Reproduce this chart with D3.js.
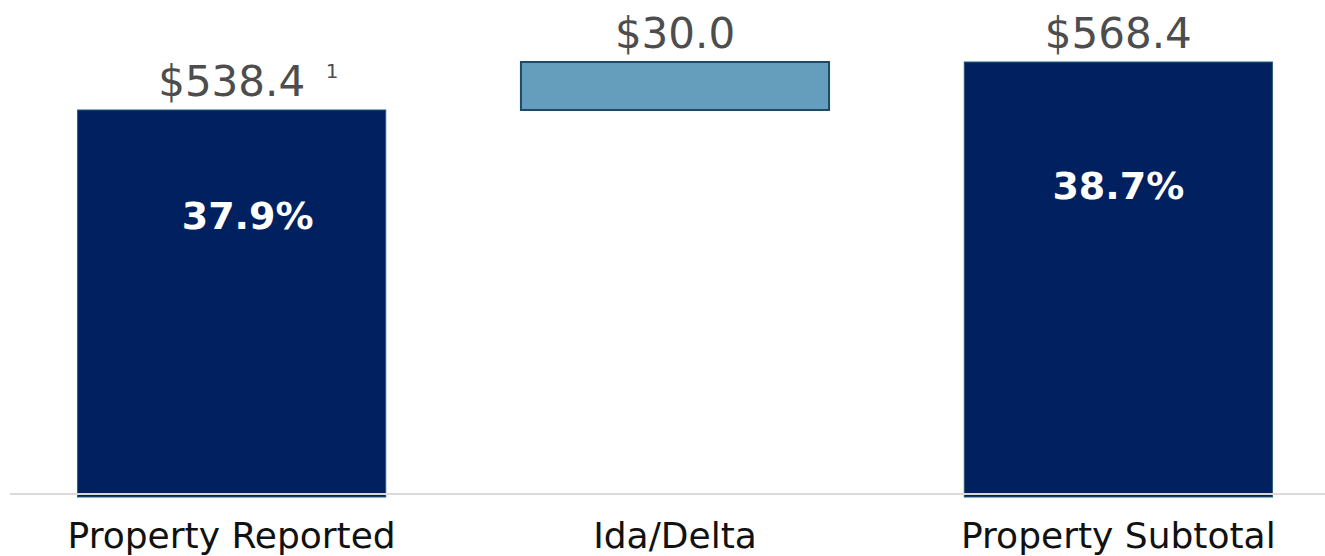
<!DOCTYPE html>
<html><head><meta charset="utf-8">
<script src="https://cdn.jsdelivr.net/npm/d3@7"></script>
<style>html,body{margin:0;padding:0;background:#fff;}svg{display:block;}</style>
</head><body>
<svg id="c" width="1325" height="556"></svg>
<script>
const categories = ["Property Reported", "Ida/Delta", "Property Subtotal"];
const barTypes = ["total", "delta", "total"];
const barValues = [538.4, 30.0, 568.4];
const valueLabels = ["$538.4", "$30.0", "$568.4"];
const footnotes = ["1", "", ""];
const ratioLabels = ["37.9%", "", "38.7%"];

// cumulative starts/ends
let run = 0;
const bars = categories.map((c, i) => {
  let y0, y1;
  if (barTypes[i] === "total") { y0 = null; y1 = barValues[i]; run = barValues[i]; }
  else { y0 = run; y1 = run + barValues[i]; run = y1; }
  return {c, i, y0, y1, type: barTypes[i], label: valueLabels[i], fn: footnotes[i], ratio: ratioLabels[i]};
});

const svg = d3.select("#c");
const x = d3.scaleBand().domain(categories).range([10, 1340]).paddingInner(0.305).paddingOuter(0.1525);
const y = d3.scaleLinear().domain([296.5, 568.4]).range([497, 62]);

const base = y.domain()[0];
svg.selectAll("rect.bar").data(bars).join("rect")
  .attr("class", "bar")
  .attr("x", d => x(d.c))
  .attr("width", x.bandwidth())
  .attr("y", d => y(d.y1))
  .attr("height", d => y(d.y0 === null ? base : d.y0) - y(d.y1))
  .attr("fill", d => d.type === "total" ? "#002060" : "#659ebc")
  .attr("stroke", d => d.type === "total" ? "#245a78" : "#1b4a6b")
  .attr("stroke-width", d => d.type === "total" ? 1 : 2);

// baseline axis
const axis = d3.axisBottom(x).tickSize(0).tickPadding(0);
const g = svg.append("g").attr("transform", "translate(0,494)").call(axis);
g.select(".domain").attr("d", "M10,0H1325").attr("stroke", "#d9d9d9").attr("stroke-width", 2);
g.selectAll(".tick text")
  .attr("y", 54).attr("dy", 0)
  .attr("font-family", "DejaVu Sans").attr("font-size", 36).attr("fill", "#111");

// value labels
svg.selectAll("text.val").data(bars).join("text")
  .attr("class", "val")
  .attr("x", d => x(d.c) + x.bandwidth() / 2)
  .attr("y", d => y(d.y1) - 14)
  .attr("text-anchor", "middle")
  .attr("font-family", "DejaVu Sans").attr("font-size", 42).attr("fill", "#4d4d4d")
  .text(d => d.label);

svg.selectAll("text.fn").data(bars.filter(d => d.fn)).join("text")
  .attr("class", "fn")
  .attr("x", d => x(d.c) + x.bandwidth() / 2 + 94)
  .attr("y", d => y(d.y1) - 32)
  .attr("font-family", "DejaVu Sans").attr("font-size", 20).attr("fill", "#4d4d4d")
  .text(d => d.fn);

svg.selectAll("text.ratio").data(bars.filter(d => d.ratio)).join("text")
  .attr("class", "ratio")
  .attr("x", d => x(d.c) + x.bandwidth() / 2 + (d.i === 0 ? 16 : 0))
  .attr("y", d => y(d.y1) + (d.i === 0 ? 119 : 137))
  .attr("text-anchor", "middle")
  .attr("font-family", "DejaVu Sans").attr("font-weight", "bold").attr("font-size", 38).attr("fill", "#fff")
  .text(d => d.ratio);
</script>
</body></html>
